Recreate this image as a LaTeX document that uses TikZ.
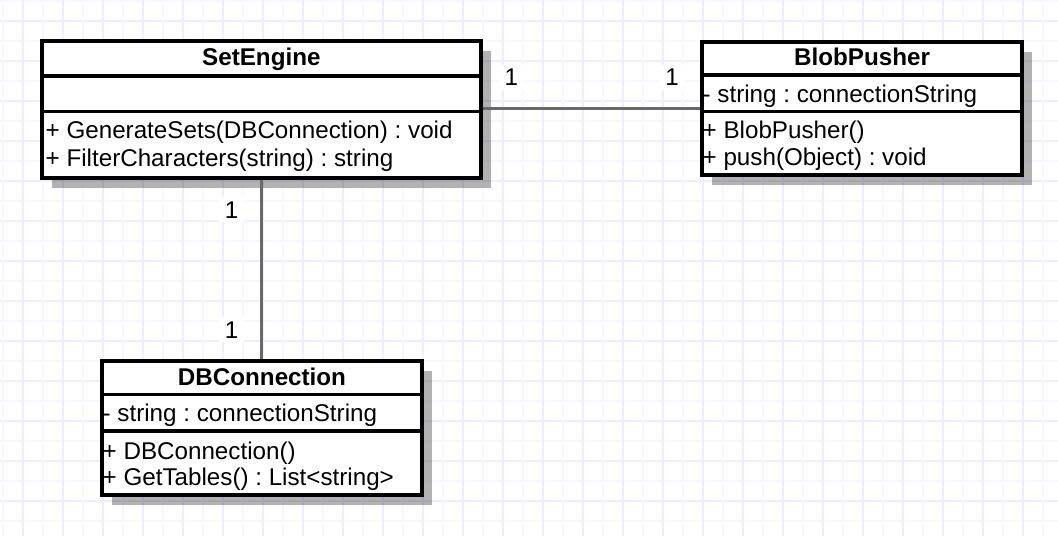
\documentclass[tikz,border=0pt]{standalone}
\usepackage{fontspec}
\setmainfont{Liberation Sans}
\usetikzlibrary{shadows}
\definecolor{gridlight}{RGB}{248,247,255}
\definecolor{griddark}{RGB}{239,238,255}
\definecolor{connc}{RGB}{105,105,105}
\frenchspacing
\begin{document}
\begin{tikzpicture}[x=1pt,y=-1pt,font=\fontsize{24.2}{28}\selectfont,
  classbox/.style={draw=black, line width=4pt, fill=white, inner sep=0pt,
    drop shadow={shadow xshift=10pt, shadow yshift=-10pt, fill=black, opacity=0.3}},
  divider/.style={draw=black, line width=3.6pt},
  member/.style={anchor=base west, inner sep=0pt},
  ctitle/.style={anchor=base, inner sep=0pt, font=\fontsize{24.2}{28}\selectfont\bfseries},
  mult/.style={fill=white, inner xsep=6pt, inner ysep=4pt},
  assoc/.style={draw=connc, line width=2.8pt}]
\frenchspacing
\useasboundingbox (0,0) rectangle (1058,536);
\fill[white] (0,0) rectangle (1058,536);
% grid
\foreach \k in {0,...,26} {
  \pgfmathsetmacro{\yy}{1+40*\k}
  \draw[gridlight, line width=1.8pt] (0,\yy) -- (1058,\yy);
  \pgfmathsetmacro{\yy}{21+40*\k}
  \draw[griddark, line width=1.8pt] (0,\yy) -- (1058,\yy);
}
\foreach \k in {0,...,26} {
  \pgfmathsetmacro{\xx}{2.7+40*\k}
  \draw[gridlight, line width=1.8pt] (\xx,0) -- (\xx,536);
  \pgfmathsetmacro{\xx}{22.7+40*\k}
  \draw[griddark, line width=1.8pt] (\xx,0) -- (\xx,536);
}
% class boxes
\node[classbox, minimum width=438.7pt, minimum height=137pt] (se) at (261.35,109.5) {};
\node[classbox, minimum width=320pt, minimum height=132.7pt] (bp) at (862,108.35) {};
\node[classbox, minimum width=320pt, minimum height=134.3pt] (db) at (262,428.15) {};
% connectors
\draw[assoc] (se.east |- bp.west) -- (bp.west);
\draw[assoc] (se.south) -- (se.south |- db.north);
% dividers
\draw[divider] (se.west |- 0,75.7) -- (se.east |- 0,75.7);
\draw[divider] (se.west |- 0,111.3) -- (se.east |- 0,111.3);
\draw[divider] (bp.west |- 0,74.7) -- (bp.east |- 0,74.7);
\draw[divider] (bp.west |- 0,111.3) -- (bp.east |- 0,111.3);
\draw[divider] (db.west |- 0,394.3) -- (db.east |- 0,394.3);
\draw[divider] (db.west |- 0,431) -- (db.east |- 0,431);
% texts
\node[ctitle] (se-t) at (261.35,65.7) {SetEngine};
\node[member] (se-m1) at (45.5,138.3) {+ GenerateSets(DBConnection) : void};
\node[member] (se-m2) at (45.5,166) {+ FilterCharacters(string) : string};
\node[ctitle] (bp-t) at (862,65.7) {BlobPusher};
\node[member] (bp-a1) at (702.5,102.7) {- string : connectionString};
\node[member] (bp-m1) at (702.5,138.3) {+ BlobPusher()};
\node[member] (bp-m2) at (702.5,165) {+ push(Object) : void};
\node[ctitle] (db-t) at (262,385.7) {DBConnection};
\node[member] (db-a1) at (102.5,421.7) {- string : connectionString};
\node[member] (db-m1) at (102.5,459) {+ DBConnection()};
\node[member] (db-m2) at (102.5,485.7) {+ GetTables() : List<string>};
% multiplicities
\node[mult] (m1) at (511.3,77.3) {1};
\node[mult] (m2) at (672,77.3) {1};
\node[mult] (m3) at (231.7,209.7) {1};
\node[mult] (m4) at (231.7,329.7) {1};
\end{tikzpicture}
\end{document}
